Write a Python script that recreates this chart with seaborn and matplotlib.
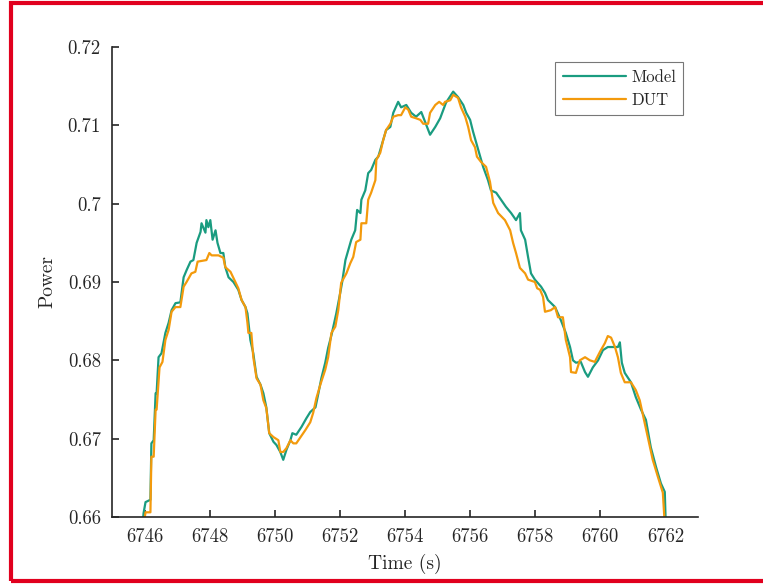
import numpy as np
import pandas as pd
import matplotlib
matplotlib.use("Agg")
import matplotlib.pyplot as plt
import seaborn as sns
from matplotlib.patches import Rectangle

# ---- data ----
model_t = [6745.94, 6745.97, 6746.03, 6746.18, 6746.21, 6746.28, 6746.34, 6746.37, 6746.43, 6746.52,
           6746.64, 6746.74, 6746.83, 6746.95, 6747.10, 6747.20, 6747.29, 6747.41, 6747.50, 6747.60,
           6747.72, 6747.75, 6747.87, 6747.90, 6747.96, 6748.02, 6748.09, 6748.18, 6748.24, 6748.33,
           6748.42, 6748.48, 6748.58, 6748.73, 6748.88, 6748.98, 6749.10, 6749.16, 6749.25, 6749.34,
           6749.44, 6749.56, 6749.65, 6749.74, 6749.83, 6749.96, 6750.05, 6750.17, 6750.26, 6750.36,
           6750.48, 6750.54, 6750.66, 6750.82, 6750.97, 6751.09, 6751.25, 6751.34, 6751.43, 6751.55,
           6751.64, 6751.74, 6751.89, 6752.01, 6752.07, 6752.17, 6752.26, 6752.35, 6752.47, 6752.53,
           6752.63, 6752.66, 6752.78, 6752.87, 6752.96, 6753.09, 6753.18, 6753.33, 6753.42, 6753.55,
           6753.64, 6753.79, 6753.88, 6754.04, 6754.19, 6754.34, 6754.50, 6754.62, 6754.77, 6754.93,
           6755.08, 6755.26, 6755.48, 6755.63, 6755.79, 6755.88, 6756.00, 6756.09, 6756.18, 6756.31,
           6756.40, 6756.55, 6756.64, 6756.80, 6756.95, 6757.10, 6757.26, 6757.41, 6757.53, 6757.56,
           6757.69, 6757.78, 6757.87, 6757.99, 6758.18, 6758.30, 6758.39, 6758.61, 6758.79, 6758.94,
           6759.07, 6759.16, 6759.25, 6759.40, 6759.53, 6759.62, 6759.77, 6759.93, 6760.08, 6760.23,
           6760.54, 6760.60, 6760.66, 6760.75, 6760.94, 6761.09, 6761.25, 6761.40, 6761.55, 6761.71,
           6761.86, 6761.98, 6762.01]
model_p = [0.6590, 0.6605, 0.6619, 0.6622, 0.6694, 0.6698, 0.6758, 0.6758, 0.6804, 0.6809,
           0.6835, 0.6848, 0.6864, 0.6873, 0.6874, 0.6906, 0.6915, 0.6926, 0.6928, 0.6950,
           0.6964, 0.6975, 0.6963, 0.6979, 0.6970, 0.6979, 0.6954, 0.6966, 0.6950, 0.6937,
           0.6937, 0.6919, 0.6906, 0.6900, 0.6890, 0.6877, 0.6868, 0.6860, 0.6826, 0.6809,
           0.6779, 0.6769, 0.6758, 0.6740, 0.6707, 0.6696, 0.6692, 0.6683, 0.6673, 0.6686,
           0.6698, 0.6707, 0.6705, 0.6715, 0.6726, 0.6734, 0.6740, 0.6758, 0.6777, 0.6797,
           0.6816, 0.6832, 0.6860, 0.6886, 0.6900, 0.6928, 0.6941, 0.6954, 0.6966, 0.6992,
           0.6988, 0.7005, 0.7017, 0.7039, 0.7043, 0.7056, 0.7060, 0.7081, 0.7094, 0.7098,
           0.7116, 0.7130, 0.7123, 0.7126, 0.7116, 0.7111, 0.7117, 0.7104, 0.7088, 0.7098,
           0.7109, 0.7129, 0.7143, 0.7136, 0.7126, 0.7116, 0.7107, 0.7092, 0.7079, 0.7060,
           0.7047, 0.7030, 0.7017, 0.7014, 0.7005, 0.6996, 0.6988, 0.6979, 0.6988, 0.6966,
           0.6954, 0.6932, 0.6911, 0.6903, 0.6894, 0.6886, 0.6877, 0.6868, 0.6851, 0.6835,
           0.6817, 0.6800, 0.6797, 0.6798, 0.6785, 0.6779, 0.6791, 0.6800, 0.6813, 0.6817,
           0.6817, 0.6823, 0.6797, 0.6784, 0.6772, 0.6753, 0.6737, 0.6724, 0.6689, 0.6664,
           0.6643, 0.6632, 0.6590]

dut_t = [6745.97, 6746.03, 6746.18, 6746.21, 6746.28, 6746.34, 6746.37, 6746.46, 6746.55, 6746.64,
         6746.74, 6746.83, 6746.95, 6747.10, 6747.20, 6747.29, 6747.44, 6747.56, 6747.63, 6747.90,
         6747.99, 6748.06, 6748.27, 6748.42, 6748.48, 6748.64, 6748.73, 6748.88, 6748.98, 6749.10,
         6749.16, 6749.19, 6749.28, 6749.34, 6749.44, 6749.56, 6749.65, 6749.74, 6749.83, 6749.96,
         6750.11, 6750.17, 6750.26, 6750.36, 6750.48, 6750.57, 6750.66, 6750.79, 6750.94, 6751.09,
         6751.18, 6751.28, 6751.40, 6751.55, 6751.64, 6751.74, 6751.86, 6751.95, 6752.04, 6752.20,
         6752.32, 6752.41, 6752.50, 6752.63, 6752.66, 6752.81, 6752.87, 6752.96, 6753.09, 6753.12,
         6753.24, 6753.33, 6753.42, 6753.55, 6753.64, 6753.79, 6753.88, 6754.01, 6754.10, 6754.19,
         6754.34, 6754.47, 6754.56, 6754.71, 6754.77, 6754.93, 6755.05, 6755.17, 6755.23, 6755.39,
         6755.48, 6755.63, 6755.72, 6755.85, 6755.94, 6756.03, 6756.15, 6756.21, 6756.34, 6756.49,
         6756.61, 6756.71, 6756.86, 6757.07, 6757.23, 6757.32, 6757.41, 6757.53, 6757.69, 6757.78,
         6757.99, 6758.06, 6758.15, 6758.24, 6758.30, 6758.48, 6758.61, 6758.70, 6758.85, 6758.94,
         6759.07, 6759.10, 6759.25, 6759.37, 6759.53, 6759.68, 6759.83, 6759.99, 6760.14, 6760.23,
         6760.33, 6760.45, 6760.54, 6760.63, 6760.75, 6760.94, 6761.09, 6761.21, 6761.31, 6761.46,
         6761.61, 6761.77, 6761.92, 6761.98]
dut_p = [0.6590, 0.6606, 0.6606, 0.6677, 0.6677, 0.6737, 0.6737, 0.6791, 0.6798, 0.6826,
         0.6839, 0.6862, 0.6868, 0.6868, 0.6894, 0.6900, 0.6911, 0.6913, 0.6926, 0.6928,
         0.6937, 0.6934, 0.6934, 0.6931, 0.6919, 0.6913, 0.6905, 0.6892, 0.6877, 0.6868,
         0.6848, 0.6835, 0.6835, 0.6804, 0.6777, 0.6769, 0.6749, 0.6739, 0.6707, 0.6702,
         0.6698, 0.6683, 0.6683, 0.6688, 0.6698, 0.6694, 0.6694, 0.6702, 0.6711, 0.6721,
         0.6733, 0.6752, 0.6769, 0.6788, 0.6804, 0.6835, 0.6843, 0.6864, 0.6899, 0.6911,
         0.6924, 0.6932, 0.6951, 0.6954, 0.6975, 0.6975, 0.7005, 0.7014, 0.7030, 0.7056,
         0.7065, 0.7081, 0.7094, 0.7102, 0.7111, 0.7113, 0.7113, 0.7123, 0.7120, 0.7111,
         0.7109, 0.7107, 0.7102, 0.7102, 0.7116, 0.7126, 0.7130, 0.7126, 0.7130, 0.7132,
         0.7139, 0.7135, 0.7123, 0.7111, 0.7098, 0.7081, 0.7072, 0.7060, 0.7053, 0.7047,
         0.7028, 0.7001, 0.6988, 0.6979, 0.6966, 0.6950, 0.6937, 0.6918, 0.6911, 0.6903,
         0.6900, 0.6892, 0.6890, 0.6881, 0.6862, 0.6864, 0.6868, 0.6855, 0.6855, 0.6826,
         0.6804, 0.6785, 0.6784, 0.6800, 0.6804, 0.6800, 0.6798, 0.6811, 0.6822, 0.6831,
         0.6829, 0.6817, 0.6804, 0.6784, 0.6772, 0.6772, 0.6762, 0.6749, 0.6730, 0.6702,
         0.6673, 0.6651, 0.6631, 0.6590]

series_names = ["Model", "DUT"]
x_ticks = [6746, 6748, 6750, 6752, 6754, 6756, 6758, 6760, 6762]
y_ticks = [0.66, 0.67, 0.68, 0.69, 0.70, 0.71, 0.72]
y_tick_labels = ["0.66", "0.67", "0.68", "0.69", "0.7", "0.71", "0.72"]

# ---- build table ----
df = pd.concat([
    pd.DataFrame({"Time": model_t, "Power": model_p, "Series": series_names[0]}),
    pd.DataFrame({"Time": dut_t, "Power": dut_p, "Series": series_names[1]}),
], ignore_index=True)

sns.set_theme(style="white")
plt.rcParams["font.family"] = ["cmr10", "DejaVu Serif"]
plt.rcParams["mathtext.fontset"] = "cm"
plt.rcParams["axes.formatter.use_mathtext"] = True

fig = plt.figure(figsize=(7.63, 5.84), dpi=100)
ax = fig.add_axes([112 / 763, 67 / 584, 586 / 763, 470 / 584])

palette = {"Model": "#1a9c80", "DUT": "#f39a0c"}
sns.lineplot(data=df, x="Time", y="Power", hue="Series", palette=palette,
             estimator=None, sort=True, linewidth=1.6, ax=ax)

ax.set_xlim(6745, 6763)
ax.set_ylim(0.66, 0.72)
ax.set_xticks(x_ticks)
ax.set_xticklabels([str(v) for v in x_ticks])
ax.set_yticks(y_ticks)
ax.set_yticklabels(y_tick_labels)
ax.tick_params(direction="in", length=5, width=1.2, colors="#262626",
               labelsize=13.5, pad=8, bottom=True, left=True,
               top=False, right=False)
for side in ["top", "right"]:
    ax.spines[side].set_visible(False)
for side in ["left", "bottom"]:
    ax.spines[side].set_color("#262626")
    ax.spines[side].set_linewidth(1.2)

ax.set_xlabel("Time (s)", fontsize=14, color="#262626", labelpad=6)
ax.set_ylabel("Power", fontsize=14, color="#262626", labelpad=8)

leg = ax.legend(loc="upper right", bbox_to_anchor=(0.975, 0.968), fontsize=12,
                frameon=True, fancybox=False, edgecolor="#555555",
                handlelength=3.8, handletextpad=0.3, borderpad=0.45,
                labelspacing=0.45, borderaxespad=0)
leg.get_frame().set_linewidth(0.8)

# red outer frame
fig.patches.append(Rectangle((11 / 763, 3 / 584), 1.2, 578 / 584,
                             transform=fig.transFigure, fill=False,
                             edgecolor="#e1001e", linewidth=3.0, zorder=10))

fig.savefig("out.png", dpi=100)
